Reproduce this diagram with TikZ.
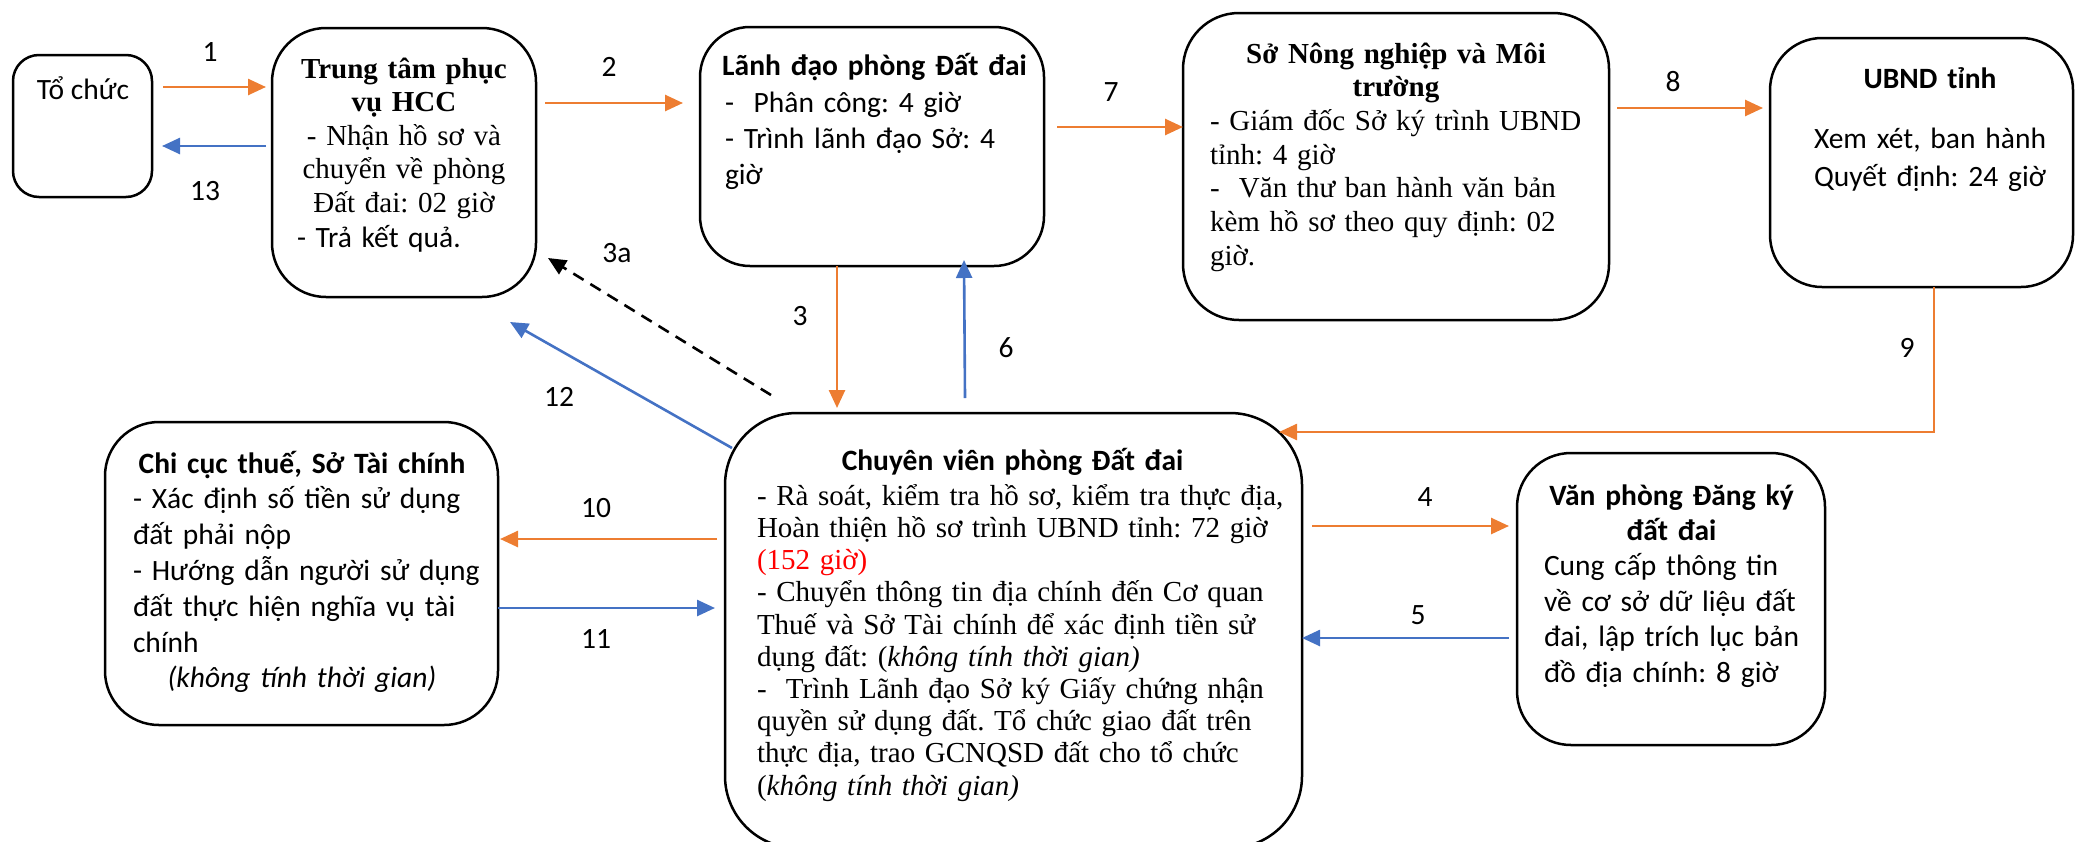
\documentclass[tikz,border=0pt]{standalone}
\usepackage{fontspec}
\setmainfont{Liberation Serif}
\newfontfamily\calfont{Carlito}
\usetikzlibrary{arrows.meta,calc}
\definecolor{org}{HTML}{ED7D31}
\definecolor{blu}{HTML}{4472C4}
\newcommand\ctrline[1]{\makebox[\linewidth][c]{#1}}
\newcommand\jline[1]{\makebox[\linewidth][s]{#1}}
\frenchspacing
\begin{document}
\begin{tikzpicture}[x=0.5pt,y=-0.5pt,
  rbox/.style={draw=black,line width=1.25pt,rounded corners=#1,inner sep=0pt,outer sep=0pt},
  oarr/.style={draw=org,line width=1.3pt,-{Triangle[length=9pt,width=8pt]}},
  barr/.style={draw=blu,line width=1.3pt,-{Triangle[length=9pt,width=8pt]}},
  darr/.style={draw=black,line width=1.3pt,dash pattern=on 6pt off 4pt,-{Triangle[length=9pt,width=8pt]}},
  num/.style={font=\calfont\fontsize{14.75}{18}\selectfont,inner sep=0pt},
  txt/.style={inner sep=0pt,outer sep=0pt,align=left},
  tnr/.style={font=\fontsize{14.5}{#1}\selectfont},
  cal/.style={font=\calfont\fontsize{14.75}{#1}\selectfont}]
\useasboundingbox (0,0) rectangle (2075,841);

% boxes
\node[rbox=13pt,minimum width=69.5pt,minimum height=71pt] (toch) at (82.5,126) {};
\node[rbox=27pt,minimum width=132pt,minimum height=134.5pt] (ttam) at (404,162.5) {};
\node[rbox=25pt,minimum width=172pt,minimum height=119.5pt] (ldao) at (872,146.5) {};
\node[rbox=28pt,minimum width=213pt,minimum height=153.5pt] (sonn) at (1396,166.5) {};
\node[rbox=26pt,minimum width=151.5pt,minimum height=124.5pt] (ubnd) at (1921.5,162.5) {};
\node[rbox=27pt,minimum width=196.5pt,minimum height=151.5pt] (chicuc) at (301.5,573.5) {};
\node[rbox=36pt,minimum width=288.5pt,minimum height=217.5pt] (cvien) at (1013.5,630.5) {};
\node[rbox=27pt,minimum width=154pt,minimum height=146pt] (vpdk) at (1671,599) {};

% texts
\node[txt,cal=18,anchor=base] (toch-t) at (83,99) {Tổ chức};

\node[txt,tnr=16.75,text width=107pt,anchor=base west] (ttam-t) at (297,78) {%
\ctrline{\textbf{Trung tâm phục}}\\
\ctrline{\textbf{vụ HCC}}\\
\ctrline{- Nhận hồ sơ và}\\
\ctrline{chuyển về phòng}\\
\ctrline{Đất đai: 02 giờ}\\[0.8pt]
{\calfont\fontsize{14.75}{18}\selectfont - Trả kết quả.}};

\node[txt,cal=18,text width=149.5pt,anchor=base west] (ldao-t) at (725,75) {%
\ctrline{\textbf{Lãnh đạo phòng Đất đai}}\\[0.5pt]
-\ \ Phân công: 4 giờ\\
\jline{- Trình lãnh đạo Sở: 4}\\
giờ};

\node[txt,tnr=16.85,text width=186pt,anchor=base west] (sonn-t) at (1210,63) {%
\ctrline{\textbf{Sở Nông nghiệp và Môi}}\\
\ctrline{\textbf{trường}}\\
- Giám đốc Sở ký trình UBND\\
tỉnh: 4 giờ\\
-\ \ Văn thư ban hành văn bản\\
kèm hồ sơ theo quy định: 02\\
giờ.};

\node[txt,cal=19,text width=125pt,align=center,anchor=base] (ubnd-t) at (1930,88) {%
\textbf{UBND tỉnh}\\[11pt]
Xem xét, ban hành\\
Quyết định: 24 giờ};

\node[txt,cal=17.9,text width=169pt,anchor=base west] (chicuc-t) at (133,473) {%
\ctrline{\textbf{Chi cục thuế, Sở Tài chính}}\\
\jline{- Xác định số tiền sử dụng}\\
đất phải nộp\\
\jline{- Hướng dẫn người sử dụng}\\
\jline{đất thực hiện nghĩa vụ tài}\\
chính\\
\ctrline{\textit{(không tính thời gian)}}};

\node[txt,tnr=16.1,text width=255.5pt,anchor=base west] (cvien-t) at (757,470) {%
\ctrline{\calfont\fontsize{14.75}{18}\selectfont\bfseries Chuyên viên phòng Đất đai}\\[1.5pt]
\jline{- Rà soát, kiểm tra hồ sơ, kiểm tra thực địa,}\\
\jline{Hoàn thiện hồ sơ trình UBND tỉnh: 72 giờ}\\
\textcolor{red}{(152 giờ)}\\
\jline{- Chuyển thông tin địa chính đến Cơ quan}\\
\jline{Thuế và Sở Tài chính để xác định tiền sử}\\
dụng đất: (\textit{không tính thời gian)}\\
\jline{-\ \ Trình Lãnh đạo Sở ký Giấy chứng nhận}\\
\jline{quyền sử dụng đất. Tổ chức giao đất trên}\\
\jline{thực địa, trao GCNQSD đất cho tổ chức}\\
(\textit{không tính thời gian)}};

\node[txt,cal=17.7,text width=127.5pt,anchor=base west] (vpdk-t) at (1544,505) {%
\ctrline{\textbf{Văn phòng Đăng ký}}\\
\ctrline{\textbf{đất đai}}\\
\jline{Cung cấp thông tin}\\
\jline{về cơ sở dữ liệu đất}\\
\jline{đai, lập trích lục bản}\\
đồ địa chính: 8 giờ};

% connectors
\draw[oarr] ($(toch.east|-0,87)+(11,0)$) -- ($(ttam.west|-0,87)+(-6,0)$);
\draw[barr] ($(ttam.west|-0,146)+(-6,0)$) -- ($(toch.east|-0,146)+(10,0)$);
\draw[oarr] ($(ttam.east|-0,103)+(9,0)$) -- ($(ldao.west|-0,103)+(-17,0)$);
\draw[oarr] ($(ldao.east|-0,127)+(13,0)$) -- (sonn.west|-0,127);
\draw[oarr] ($(sonn.east|-0,108)+(8,0)$) -- ($(ubnd.west|-0,108)+(-7,0)$);
\draw[oarr] (ubnd.south-|1934,0) |- ($(cvien.east|-0,432)+(-23,0)$);
\draw[oarr] (ldao.south-|837,0) -- ($(cvien.north-|837,0)+(0,-5)$);
\draw[barr] ($(cvien.north-|965,0)+(0,-15)$) -- ($(ldao.south-|964,0)+(0,-6)$);
\draw[darr] ($(cvien.north west)+(46,-18)$) -- ($(ttam.south east)+(12,-39)$);
\draw[barr] ($(cvien.north west)+(7,35)$) -- ($(ttam.south east)+(-26,25)$);
\draw[oarr] ($(cvien.west|-0,539)+(-8,0)$) -- ($(chicuc.east|-0,539)+(2,0)$);
\draw[barr] (chicuc.east|-0,608) -- ($(cvien.west|-0,608)+(-10,0)$);
\draw[oarr] ($(cvien.east|-0,526)+(10,0)$) -- ($(vpdk.west|-0,526)+(-8,0)$);
\draw[barr] ($(vpdk.west|-0,638)+(-8,0)$) -- (cvien.east|-0,638);

% labels
\node[num] (l1) at (210,52) {1};
\node[num] (l13) at (205,191) {13};
\node[num] (l2) at (609,67) {2};
\node[num] (l7) at (1111,92) {7};
\node[num] (l8) at (1673,82) {8};
\node[num] (l9) at (1907,348) {9};
\node[num] (l3) at (800,316) {3};
\node[num] (l6) at (1006,348) {6};
\node[num] (l3a) at (617,253) {3a};
\node[num] (l12) at (559,397) {12};
\node[num] (l10) at (596,508) {10};
\node[num] (l11) at (596,639) {11};
\node[num] (l4) at (1425,497) {4};
\node[num] (l5) at (1418,615) {5};
\end{tikzpicture}
\end{document}
